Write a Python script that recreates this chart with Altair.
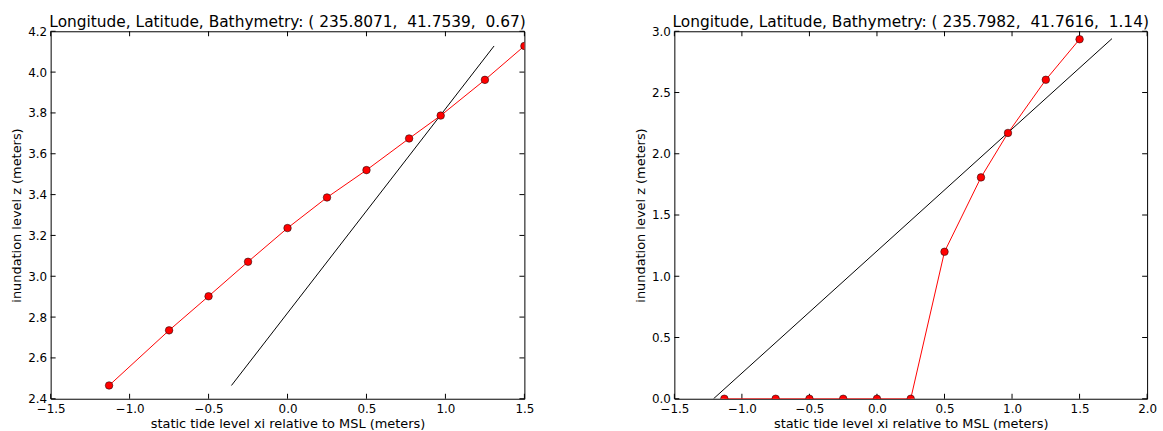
import altair as alt
import pandas as pd

# ---- data ----
xi_levels = [-1.13, -0.75, -0.5, -0.25, 0.0, 0.25, 0.5, 0.77, 0.97, 1.25, 1.5]
left_z = [2.465, 2.735, 2.902, 3.071, 3.236, 3.386, 3.52, 3.675, 3.787, 3.962, 4.128]
right_z = [0.0, 0.0, 0.0, 0.0, 0.0, 0.0, 1.2, 1.807, 2.17, 2.604, 2.935]

left_line_xi = [-0.355, 1.308]
left_line_z = [2.465, 4.128]
right_line_xi = [-1.21, 1.74]
right_line_z = [0.0, 2.94]

left_title = "Longitude, Latitude, Bathymetry: ( 235.8071,  41.7539,  0.67)"
right_title = "Longitude, Latitude, Bathymetry: ( 235.7982,  41.7616,  1.14)"

left_xticks = [-1.5, -1.0, -0.5, 0.0, 0.5, 1.0, 1.5]
left_yticks = [2.4, 2.6, 2.8, 3.0, 3.2, 3.4, 3.6, 3.8, 4.0, 4.2]
right_xticks = [-1.5, -1.0, -0.5, 0.0, 0.5, 1.0, 1.5, 2.0]
right_yticks = [0.0, 0.5, 1.0, 1.5, 2.0, 2.5, 3.0]

left_xdom = [-1.5, 1.5]
left_ydom = [2.4, 4.2]
right_xdom = [-1.5, 2.0]
right_ydom = [0.0, 3.0]

XLABEL = "static tide level xi relative to MSL (meters)"
YLABEL = "inundation level z (meters)"
FONT = "DejaVu Sans"
TL = 5  # tick length


def keep_spaces(s):
    # SVG collapses runs of spaces; keep the double spaces visible
    return s.replace("  ", " \u00a0")


def panel(xi, z, lxi, lz, xticks, yticks, xdom, ydom, title, W, H):
    pts = pd.DataFrame({"xi": xi, "z": z})
    line = pd.DataFrame({"xi": lxi, "z": lz})
    xt = pd.DataFrame({"xi": xticks})
    yt = pd.DataFrame({"z": yticks})

    xax = alt.Axis(values=xticks, format=".1f", title=XLABEL, tickSize=0,
                   labelPadding=5, titlePadding=3, domain=False, grid=False,
                   labelFlush=False, labelOverlap=False)
    yax = alt.Axis(values=yticks, format=".1f", title=YLABEL, tickSize=0,
                   labelPadding=4, titlePadding=4, domain=False, grid=False,
                   labelFlush=False, labelOverlap=False)
    X = alt.X("xi:Q", scale=alt.Scale(domain=xdom, nice=False, zero=False), axis=xax)
    Y = alt.Y("z:Q", scale=alt.Scale(domain=ydom, nice=False, zero=False), axis=yax)

    black = alt.Chart(line).mark_line(color="black", strokeWidth=1, clip=True).encode(x=X, y=Y)
    red = alt.Chart(pts).mark_line(color="#ff0000", strokeWidth=1, clip=True).encode(x=X, y=Y)
    dots = alt.Chart(pts).mark_point(shape="circle", filled=True, fill="#ff0000",
                                     stroke="black", strokeWidth=0.5, opacity=1,
                                     size=58, clip=True).encode(x=X, y=Y)
    tl = alt.Chart(yt).mark_rule(color="black", strokeWidth=1).encode(
        y=Y, x=alt.value(0), x2=alt.value(TL))
    tr = alt.Chart(yt).mark_rule(color="black", strokeWidth=1).encode(
        y=Y, x=alt.value(W - TL), x2=alt.value(W))
    tb = alt.Chart(xt).mark_rule(color="black", strokeWidth=1).encode(
        x=X, y=alt.value(H - TL), y2=alt.value(H))
    tt = alt.Chart(xt).mark_rule(color="black", strokeWidth=1).encode(
        x=X, y=alt.value(0), y2=alt.value(TL))

    return alt.layer(tl, tr, tb, tt, black, red, dots).properties(
        width=W, height=H,
        title=alt.TitleParams(keep_spaces(title), fontSize=15.5, font=FONT,
                              fontWeight="normal", color="black", anchor="middle",
                              offset=-5),
    )


H = 370
left = panel(xi_levels, left_z, left_line_xi, left_line_z, left_xticks, left_yticks,
             left_xdom, left_ydom, left_title, 477, H)
right = panel(xi_levels, right_z, right_line_xi, right_line_z, right_xticks, right_yticks,
              right_xdom, right_ydom, right_title, 476, H)

chart = alt.hconcat(left, right, spacing=99).properties(
    padding={"left": 10, "top": 13, "right": 5, "bottom": 0},
    background="white",
).configure_view(stroke="black", strokeWidth=1).configure_axis(
    labelFont=FONT, titleFont=FONT, labelFontSize=12, titleFontSize=13,
    labelColor="black", titleColor="black", titleFontWeight="normal",
)

chart.save("out.html", embed_options={"renderer": "svg", "actions": False})
